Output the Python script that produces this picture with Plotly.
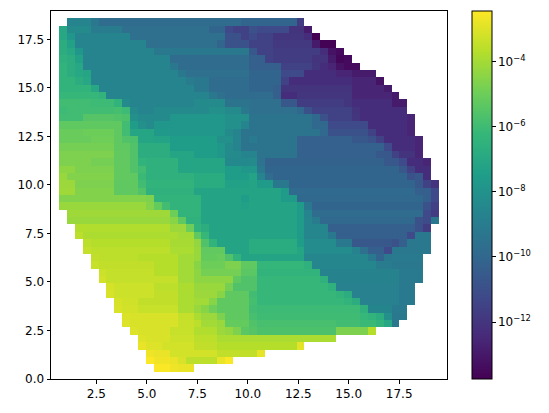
import plotly.graph_objects as go

# Histogram bin layout: 50 x 50 cells
x_start, x_stop = 0.25, 19.87
y_start, y_stop = 0.0, 18.96
n_bins = 50
cbar_ticks = [-4, -6, -8, -10, -12]
cbar_labels = ["10<sup>\u22124</sup>", "10<sup>\u22126</sup>", "10<sup>\u22128</sup>", "10<sup>\u221210</sup>", "10<sup>\u221212</sup>"]
x_ticks = [2.5, 5.0, 7.5, 10.0, 12.5, 15.0, 17.5]
y_ticks = [0.0, 2.5, 5.0, 7.5, 10.0, 12.5, 15.0, 17.5]

# For every row: last filled bin, then runs of [first bin of the run, log10(value)]
rows = {
1: (17, [[13,-2.5],[15,-2.7],[16,-2.8]]),
2: (22, [[12,-2.5],[13,-2.7],[15,-2.8],[16,-3.1],[17,-3.6],[21,-2.8],[22,-2.5]]),
3: (26, [[12,-2.7],[13,-2.8],[15,-3.2],[21,-3.5],[26,-2.85]]),
4: (31, [[11,-2.8],[12,-3.0],[14,-3.2],[18,-3.5],[21,-3.7],[31,-2.9]]),
5: (35, [[11,-3.0],[12,-3.1],[15,-3.3],[18,-3.6],[21,-3.9]]),
6: (40, [[10,-3.0],[11,-3.1],[15,-3.4],[18,-3.8],[21,-4.15],[22,-4.3],[23,-4.7],[24,-5.4],[25,-5.5],[26,-5.7],[36,-4.7],[40,-3.7]]),
7: (43, [[9,-3.0],[10,-3.1],[16,-3.4],[18,-3.6],[19,-4.05],[21,-4.2],[22,-5.2],[25,-5.6],[26,-5.8],[36,-5.95],[39,-6.1],[41,-6.4],[42,-7.0],[43,-9.2]]),
8: (44, [[9,-3.05],[10,-3.1],[16,-3.45],[18,-3.9],[19,-4.15],[21,-4.7],[22,-5.3],[25,-5.8],[26,-6.0],[39,-6.2],[40,-6.4],[41,-6.7],[42,-8.1],[43,-9.2]]),
9: (44, [[8,-3.1],[9,-3.2],[11,-3.4],[16,-3.9],[18,-4.2],[19,-4.5],[20,-4.95],[21,-5.3],[25,-5.95],[26,-6.05],[39,-6.55],[40,-8.6],[43,-9.1]]),
10: (45, [[8,-3.15],[9,-3.25],[11,-3.5],[16,-3.9],[18,-4.05],[20,-4.5],[21,-5.3],[25,-5.85],[26,-6.2],[37,-6.4],[38,-6.7],[39,-8.8],[44,-9.1]]),
11: (45, [[7,-3.1],[8,-3.3],[13,-3.5],[16,-3.9],[18,-4.15],[21,-4.5],[22,-5.3],[25,-5.95],[26,-6.2],[36,-6.4],[37,-6.7],[38,-8.8],[44,-9.1]]),
12: (45, [[7,-3.15],[8,-3.3],[13,-3.6],[16,-3.85],[18,-4.2],[22,-4.85],[23,-5.6],[26,-6.2],[35,-6.55],[36,-8.8],[44,-9.1]]),
13: (46, [[6,-3.2],[7,-3.45],[16,-4.05],[18,-4.4],[23,-5.3],[24,-5.6],[26,-6.2],[34,-6.55],[35,-8.7],[44,-9.1]]),
14: (46, [[6,-3.3],[7,-3.45],[13,-3.7],[16,-4.05],[18,-4.4],[19,-4.85],[24,-5.4],[26,-6.4],[34,-8.7],[44,-9.1]]),
15: (46, [[5,-3.4],[6,-3.5],[13,-3.7],[16,-4.05],[18,-4.5],[19,-5.0],[22,-4.7],[24,-5.3],[26,-6.3],[32,-6.55],[33,-8.5],[41,-9.0],[43,-9.2]]),
16: (46, [[5,-3.5],[6,-3.6],[11,-3.7],[16,-4.05],[18,-4.2],[19,-5.2],[21,-5.1],[22,-5.6],[23,-6.4],[24,-7.15],[32,-8.5],[40,-9.2],[41,-10.1],[42,-9.2],[43,-9.1]]),
17: (47, [[4,-3.45],[5,-3.6],[15,-3.9],[18,-4.2],[19,-5.25],[22,-7.15],[25,-6.8],[31,-7.1],[32,-8.3],[38,-8.75],[39,-9.6],[40,-10.35],[42,-11.2],[43,-9.2]]),
18: (47, [[4,-3.6],[5,-3.7],[15,-3.95],[18,-4.3],[19,-5.6],[20,-6.4],[21,-7.15],[25,-6.8],[31,-7.5],[32,-8.3],[36,-9.2],[38,-10.65],[43,-10.9],[44,-10.35],[45,-9.2]]),
19: (47, [[3,-3.6],[4,-3.85],[16,-4.05],[18,-5.3],[19,-6.2],[20,-7.15],[31,-7.6],[32,-8.5],[35,-9.2],[36,-10.35],[45,-11.2],[46,-9.2]]),
20: (47, [[3,-3.75],[4,-3.8],[15,-4.15],[17,-5.0],[18,-6.4],[19,-6.7],[20,-7.15],[31,-7.6],[32,-8.5],[35,-10.35],[46,-10.9],[47,-11.75]]),
21: (48, [[2,-4.2],[15,-4.5],[16,-5.3],[17,-6.55],[19,-7.15],[31,-7.6],[32,-8.5],[33,-9.0],[34,-10.0],[46,-10.9],[47,-11.2],[48,-9.2]]),
22: (48, [[2,-4.1],[15,-5.0],[16,-6.4],[19,-7.15],[31,-7.6],[32,-8.65],[33,-9.8],[47,-11.2],[48,-11.75]]),
23: (48, [[1,-4.2],[12,-4.6],[13,-5.2],[14,-5.95],[15,-6.4],[19,-7.15],[24,-7.3],[25,-7.15],[31,-7.6],[32,-9.2],[33,-10.1],[47,-10.9],[48,-11.5]]),
24: (48, [[1,-4.6],[12,-4.7],[13,-6.4],[19,-7.15],[24,-7.5],[25,-7.15],[29,-7.6],[31,-10.0],[47,-10.35],[48,-11.2]]),
25: (48, [[1,-4.1],[3,-4.6],[8,-5.3],[11,-5.6],[12,-6.55],[18,-7.15],[29,-7.6],[30,-9.9],[46,-10.35],[48,-11.2]]),
26: (48, [[1,-4.15],[3,-4.7],[8,-5.3],[11,-5.95],[12,-6.4],[18,-6.8],[22,-7.3],[25,-7.15],[26,-7.6],[28,-9.2],[30,-10.1],[46,-10.65],[47,-11.5],[48,-12.05]]),
27: (47, [[1,-4.2],[2,-4.6],[8,-5.25],[10,-5.3],[11,-6.1],[12,-6.55],[18,-6.8],[22,-7.5],[25,-7.2],[26,-8.65],[27,-9.8],[28,-10.1],[45,-10.9],[46,-10.65],[47,-12.3]]),
28: (47, [[1,-4.4],[3,-4.7],[8,-5.25],[10,-5.6],[11,-5.95],[12,-6.55],[16,-7.1],[22,-7.5],[24,-7.85],[26,-9.2],[27,-10.1],[44,-10.65],[45,-11.5],[46,-12.3]]),
29: (47, [[1,-4.7],[5,-4.85],[8,-5.25],[10,-5.6],[11,-6.4],[12,-6.55],[16,-7.1],[22,-8.4],[25,-8.35],[26,-9.5],[27,-10.2],[42,-10.65],[44,-11.2],[45,-12.3],[47,-12.6]]),
30: (46, [[1,-4.7],[8,-5.25],[10,-5.6],[11,-6.7],[15,-7.1],[18,-7.5],[21,-7.85],[22,-8.35],[24,-8.65],[26,-9.4],[31,-10.25],[41,-10.65],[43,-11.5],[44,-12.05],[46,-12.6]]),
31: (46, [[1,-4.85],[8,-5.3],[10,-5.6],[11,-6.7],[15,-7.5],[21,-7.85],[22,-8.35],[23,-8.65],[24,-9.4],[31,-10.25],[42,-11.2],[43,-12.3],[46,-12.6]]),
32: (46, [[1,-5.1],[5,-4.95],[8,-5.3],[9,-5.6],[10,-5.7],[11,-7.1],[13,-7.2],[15,-7.5],[21,-8.1],[23,-8.65],[24,-9.4],[25,-9.1],[26,-9.4],[31,-10.25],[38,-10.65],[40,-10.9],[41,-11.5],[42,-12.3],[46,-12.6]]),
33: (45, [[1,-5.1],[4,-5.0],[8,-5.3],[9,-5.95],[10,-7.1],[13,-7.7],[15,-7.85],[22,-8.35],[23,-8.65],[24,-9.4],[34,-10.0],[35,-10.9],[40,-11.5],[41,-12.3],[45,-12.6]]),
34: (45, [[1,-5.3],[9,-5.95],[10,-7.5],[11,-8.1],[12,-8.35],[13,-7.85],[22,-8.1],[24,-8.65],[25,-9.4],[33,-10.0],[35,-11.2],[40,-12.3],[45,-12.6]]),
35: (45, [[1,-5.95],[4,-5.5],[8,-5.6],[9,-5.7],[10,-8.1],[11,-8.35],[15,-7.85],[22,-8.1],[25,-9.4],[33,-10.0],[34,-10.9],[35,-11.5],[38,-12.0],[39,-12.3],[45,-12.6]]),
36: (44, [[1,-6.05],[2,-5.95],[8,-5.85],[9,-6.05],[10,-8.35],[11,-8.65],[13,-8.35],[20,-8.1],[22,-8.35],[24,-9.2],[25,-9.6],[31,-10.0],[32,-10.9],[33,-11.5],[38,-12.05],[39,-12.3]]),
37: (44, [[1,-5.95],[5,-6.05],[8,-6.4],[9,-8.35],[10,-8.65],[18,-8.35],[22,-9.4],[25,-9.6],[29,-10.65],[31,-11.75],[37,-12.0],[38,-12.3],[43,-12.9]]),
38: (43, [[1,-6.2],[6,-6.4],[7,-8.65],[20,-9.2],[21,-9.6],[22,-9.8],[28,-10.35],[29,-12.3],[31,-12.0],[38,-12.6],[43,-12.9]]),
39: (42, [[1,-6.4],[5,-7.0],[6,-8.65],[18,-9.2],[20,-9.8],[25,-10.1],[28,-10.35],[29,-12.05],[38,-12.6],[42,-12.9]]),
40: (41, [[1,-6.4],[3,-6.7],[4,-7.0],[5,-8.65],[17,-9.0],[18,-9.2],[20,-9.8],[25,-10.1],[29,-11.5],[30,-12.3],[38,-12.6],[41,-13.2]]),
41: (40, [[1,-6.4],[2,-6.7],[3,-7.0],[4,-7.1],[5,-8.65],[16,-9.2],[17,-9.6],[25,-10.1],[29,-11.2],[32,-12.3],[36,-12.6],[38,-12.9]]),
42: (38, [[1,-6.4],[2,-6.7],[3,-7.0],[4,-8.65],[15,-9.2],[16,-9.8],[25,-10.35],[29,-11.5],[33,-12.0],[34,-12.3],[35,-12.6],[36,-13.2],[37,-13.45]]),
43: (37, [[1,-6.55],[2,-6.7],[3,-7.3],[4,-8.65],[15,-9.8],[25,-10.35],[27,-11.5],[28,-11.75],[33,-12.05],[35,-12.9],[36,-13.6],[37,-13.45]]),
44: (36, [[1,-6.7],[2,-7.0],[3,-7.85],[4,-8.65],[13,-9.2],[25,-10.65],[26,-11.5],[28,-11.75],[34,-12.3],[35,-13.2],[36,-13.45]]),
45: (35, [[1,-6.7],[2,-7.3],[3,-8.65],[12,-9.6],[21,-10.1],[22,-10.9],[25,-11.5],[28,-11.85],[33,-12.9],[34,-13.7]]),
46: (33, [[1,-7.0],[2,-7.85],[3,-8.65],[10,-9.6],[22,-10.9],[24,-11.5],[25,-11.2],[26,-11.5],[28,-12.0],[32,-12.3],[33,-13.75]]),
47: (32, [[1,-7.0],[2,-8.35],[5,-9.0],[9,-9.6],[20,-10.1],[22,-11.2],[23,-11.5],[25,-10.9],[26,-11.2],[30,-12.05],[32,-12.9]]),
48: (31, [[2,-8.65],[5,-9.2],[6,-9.8],[24,-10.1],[31,-11.75]]),
}

x_edges = [x_start + (x_stop - x_start) * i / n_bins for i in range(n_bins + 1)]
y_edges = [y_start + (y_stop - y_start) * i / n_bins for i in range(n_bins + 1)]

z = [[None] * n_bins for _ in range(n_bins)]
for r, (last, runs) in rows.items():
    for j, (first, value) in enumerate(runs):
        stop = runs[j + 1][0] if j + 1 < len(runs) else last + 1
        for c in range(first, stop):
            z[r][c] = value

FONT = dict(family="DejaVu Sans", size=12, color="black")

fig = go.Figure(go.Heatmap(
    x=x_edges, y=y_edges, z=z,
    colorscale="Viridis", zmin=-13.75, zmax=-2.45,
    hoverongaps=False,
    colorbar=dict(
        tickmode="array", tickvals=cbar_ticks, ticktext=cbar_labels,
        thickness=19.5, thicknessmode="pixels",
        len=1, lenmode="fraction", y=0.5, yanchor="middle",
        x=1.063, xanchor="left", xpad=0, ypad=0,
        outlinewidth=1, outlinecolor="black",
        ticks="outside", ticklen=3.5, tickwidth=0.8, tickcolor="black",
        tickfont=FONT,
    ),
))

axis = dict(showgrid=False, zeroline=False, showline=True, linecolor="black", linewidth=1,
            mirror=True, ticks="outside", ticklen=3.5, tickwidth=0.8, tickcolor="black",
            tickfont=FONT, tickformat=".1f", tickmode="array")

fig.update_layout(
    width=549, height=413,
    margin=dict(l=51, r=102, t=10.5, b=34, pad=0),
    paper_bgcolor="white", plot_bgcolor="white",
    xaxis=dict(axis, range=[x_start, x_stop], tickvals=x_ticks),
    yaxis=dict(axis, range=[y_start, y_stop], tickvals=y_ticks),
)

fig.write_html("out.html", post_script="document.body.style.margin='0';", config={"displayModeBar": False})
